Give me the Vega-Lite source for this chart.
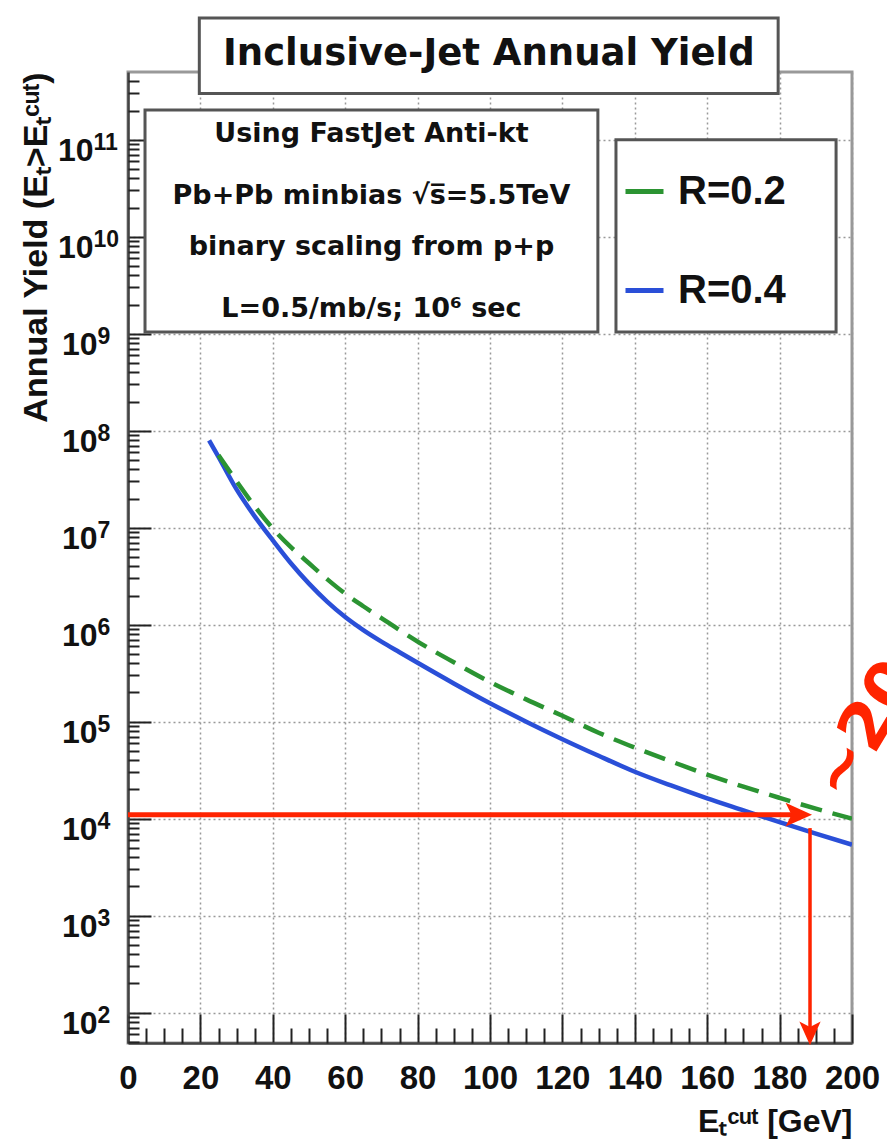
{
  "$schema": "https://vega.github.io/schema/vega-lite/v6.json",
  "width": 724,
  "height": 971,
  "autosize": {"type": "none"},
  "padding": {"left": 128, "top": 72, "right": 35, "bottom": 96},
  "background": "white",
  "config": {
    "font": "Liberation Sans",
    "view": {"stroke": "#999", "strokeWidth": 3},
    "axis": {
      "labelFont": "Liberation Sans",
      "labelFontWeight": "bold",
      "labelColor": "#111",
      "titleFont": "Liberation Sans",
      "titleFontWeight": "bold",
      "titleColor": "#111",
      "gridColor": "#999",
      "gridDash": [2, 3],
      "gridWidth": 1.5,
      "tickColor": "#222",
      "tickWidth": 2,
      "domainColor": "#444",
      "domainWidth": 2.5,
      "labelOverlap": false
    }
  },
  "datasets": {
    "curves": [
      {"R": "R=0.2", "E": 25, "yield": 5.6e7},
      {"R": "R=0.2", "E": 30, "yield": 3.0e7},
      {"R": "R=0.2", "E": 35, "yield": 1.66e7},
      {"R": "R=0.2", "E": 40, "yield": 9.8e6},
      {"R": "R=0.2", "E": 45, "yield": 6.3e6},
      {"R": "R=0.2", "E": 50, "yield": 4.3e6},
      {"R": "R=0.2", "E": 55, "yield": 2.95e6},
      {"R": "R=0.2", "E": 60, "yield": 2.09e6},
      {"R": "R=0.2", "E": 65, "yield": 1.55e6},
      {"R": "R=0.2", "E": 70, "yield": 1.17e6},
      {"R": "R=0.2", "E": 75, "yield": 8.8e5},
      {"R": "R=0.2", "E": 80, "yield": 6.7e5},
      {"R": "R=0.2", "E": 90, "yield": 4.1e5},
      {"R": "R=0.2", "E": 100, "yield": 2.57e5},
      {"R": "R=0.2", "E": 110, "yield": 1.7e5},
      {"R": "R=0.2", "E": 120, "yield": 1.15e5},
      {"R": "R=0.2", "E": 130, "yield": 7.7e4},
      {"R": "R=0.2", "E": 140, "yield": 5.4e4},
      {"R": "R=0.2", "E": 150, "yield": 3.9e4},
      {"R": "R=0.2", "E": 160, "yield": 2.85e4},
      {"R": "R=0.2", "E": 170, "yield": 2.14e4},
      {"R": "R=0.2", "E": 180, "yield": 1.64e4},
      {"R": "R=0.2", "E": 190, "yield": 1.27e4},
      {"R": "R=0.2", "E": 200, "yield": 1.0e4},
      {"R": "R=0.4", "E": 22.4, "yield": 7.94e7},
      {"R": "R=0.4", "E": 25, "yield": 5.37e7},
      {"R": "R=0.4", "E": 30, "yield": 2.48e7},
      {"R": "R=0.4", "E": 35, "yield": 1.31e7},
      {"R": "R=0.4", "E": 40, "yield": 7.41e6},
      {"R": "R=0.4", "E": 45, "yield": 4.3e6},
      {"R": "R=0.4", "E": 50, "yield": 2.65e6},
      {"R": "R=0.4", "E": 55, "yield": 1.73e6},
      {"R": "R=0.4", "E": 60, "yield": 1.2e6},
      {"R": "R=0.4", "E": 65, "yield": 8.8e5},
      {"R": "R=0.4", "E": 70, "yield": 6.7e5},
      {"R": "R=0.4", "E": 75, "yield": 5.2e5},
      {"R": "R=0.4", "E": 80, "yield": 4.05e5},
      {"R": "R=0.4", "E": 90, "yield": 2.48e5},
      {"R": "R=0.4", "E": 100, "yield": 1.55e5},
      {"R": "R=0.4", "E": 110, "yield": 1.0e5},
      {"R": "R=0.4", "E": 120, "yield": 6.6e4},
      {"R": "R=0.4", "E": 130, "yield": 4.45e4},
      {"R": "R=0.4", "E": 140, "yield": 3.05e4},
      {"R": "R=0.4", "E": 150, "yield": 2.2e4},
      {"R": "R=0.4", "E": 160, "yield": 1.62e4},
      {"R": "R=0.4", "E": 170, "yield": 1.22e4},
      {"R": "R=0.4", "E": 180, "yield": 9.2e3},
      {"R": "R=0.4", "E": 190, "yield": 7.0e3},
      {"R": "R=0.4", "E": 200, "yield": 5.4e3}
    ]
  },
  "resolve": {"axis": {"x": "independent", "y": "independent"}},
  "layer": [
    {
      "data": {"name": "curves"},
      "transform": [{"filter": "datum.R == 'R=0.4'"}],
      "mark": {"type": "line", "interpolate": "monotone", "strokeWidth": 4.5, "clip": true},
      "encoding": {
        "x": {
          "field": "E", "type": "quantitative",
          "scale": {"domain": [0, 200], "nice": false, "zero": false},
          "axis": {
            "orient": "bottom",
            "values": [0, 20, 40, 60, 80, 100, 120, 140, 160, 180, 200],
            "format": "d",
            "grid": true,
            "tickSize": -29,
            "labelPadding": 48,
            "labelFontSize": 33,
            "labelFlush": false,
            "title": "Eₜᶜᵘᵗ [GeV]",
            "titleAnchor": "end",
            "titleFontSize": 32,
            "titlePadding": 11
          }
        },
        "y": {
          "field": "yield", "type": "quantitative",
          "scale": {"type": "log", "domain": [48.7, 4.99e11], "nice": false},
          "axis": {
            "orient": "left",
            "values": [1e2, 1e3, 1e4, 1e5, 1e6, 1e7, 1e8, 1e9, 1e10, 1e11],
            "grid": true,
            "tickSize": -23,
            "labelPadding": 54,
            "labelFontSize": 32,
            "labelAlign": "right",
            "labelBaseline": "middle",
            "labelOffset": 11,
            "labelExpr": "datum.value < 5e9 ? '10' : ''",
            "title": "Annual Yield (Eₜ>Eₜᶜᵘᵗ)",
            "titleAnchor": "end",
            "titleFontSize": 34,
            "titlePadding": 8
          }
        },
        "color": {
          "field": "R", "type": "nominal",
          "scale": {"domain": ["R=0.2", "R=0.4"], "range": ["#2b9432", "#2a4fd8"]},
          "legend": {
            "orient": "none",
            "legendX": 495,
            "legendY": 98,
            "title": null,
            "symbolType": "stroke",
            "symbolSize": 1444,
            "symbolStrokeWidth": 5,
            "labelFont": "Liberation Sans",
            "labelFontWeight": "bold",
            "labelFontSize": 40,
            "labelColor": "#111",
            "labelOffset": 12,
            "labelBaseline": "middle",
            "rowPadding": 57,
            "padding": 0
          }
        }
      }
    },
    {
      "data": {"name": "curves"},
      "transform": [{"filter": "datum.R == 'R=0.2'"}],
      "mark": {"type": "line", "interpolate": "monotone", "strokeWidth": 4.5, "strokeDash": [22, 11], "clip": true},
      "encoding": {
        "x": {"field": "E", "type": "quantitative", "axis": null},
        "y": {
          "field": "yield", "type": "quantitative",
          "axis": {
            "orient": "left",
            "values": [1e2, 1e3, 1e4, 1e5, 1e6, 1e7, 1e8, 1e9],
            "grid": false, "domain": false,
            "ticks": true, "tickSize": 0, "tickOpacity": 0,
            "labelPadding": 31,
            "labelFontSize": 23,
            "labelAlign": "left",
            "labelBaseline": "middle",
            "labelOffset": 3,
            "labelExpr": "'' + round(log(datum.value)/LN10)",
            "title": null
          }
        },
        "color": {"field": "R", "type": "nominal"}
      }
    },
    {
      "data": {"values": [{}]},
      "mark": {"type": "rect", "fill": "white", "stroke": "#555", "strokeWidth": 3},
      "encoding": {
        "x": {"datum": 4.7, "type": "quantitative", "axis": {
          "orient": "bottom", "values": [5,10,15,25,30,35,45,50,55,65,70,75,85,90,95,105,110,115,125,130,135,145,150,155,165,170,175,185,190,195],
          "tickSize": -15, "labels": false, "grid": false, "domain": false, "title": null}},
        "x2": {"datum": 129.8},
        "y": {"datum": 2.02e11, "type": "quantitative", "axis": {
          "orient": "left", "values": [50,60,70,80,90,200,300,400,500,600,700,800,900,2000,3000,4000,5000,6000,7000,8000,9000,20000,30000,40000,50000,60000,70000,80000,90000,200000,300000,400000,500000,600000,700000,800000,900000,2e6,3e6,4e6,5e6,6e6,7e6,8e6,9e6,2e7,3e7,4e7,5e7,6e7,7e7,8e7,9e7,2e8,3e8,4e8,5e8,6e8,7e8,8e8,9e8,2e9,3e9,4e9,5e9,6e9,7e9,8e9,9e9,2e10,3e10,4e10,5e10,6e10,7e10,8e10,9e10,2e11,3e11,4e11],
          "tickSize": -11, "labels": false, "grid": false, "domain": false, "title": null}},
        "y2": {"datum": 1.04e9}
      }
    },
    {
      "data": {"values": [{}]},
      "mark": {"type": "rect", "fill": "white", "stroke": "#555", "strokeWidth": 3},
      "encoding": {
        "x": {"datum": 19.7, "type": "quantitative", "axis": null},
        "x2": {"datum": 179.6},
        "y": {"datum": 1.8e12, "type": "quantitative", "axis": {
          "orient": "left",
          "values": [1e10, 1e11],
          "grid": false, "domain": false,
          "ticks": true, "tickSize": 0, "tickOpacity": 0,
          "labelPadding": 35,
          "labelFontSize": 32,
          "labelAlign": "right",
          "labelBaseline": "middle",
          "labelOffset": 11,
          "labelExpr": "'10'",
          "title": null
        }},
        "y2": {"datum": 3.0e11}
      }
    },
    {
      "data": {"values": [{}]},
      "mark": {"type": "rect", "fill": "white", "stroke": "#555", "strokeWidth": 3},
      "encoding": {
        "x": {"datum": 134.8, "type": "quantitative", "axis": null},
        "x2": {"datum": 195.6},
        "y": {"datum": 1.0e11, "type": "quantitative", "axis": {
          "orient": "left",
          "values": [1e10, 1e11],
          "grid": false, "domain": false,
          "ticks": true, "tickSize": 0, "tickOpacity": 0,
          "labelPadding": 35,
          "labelFontSize": 23,
          "labelAlign": "left",
          "labelBaseline": "middle",
          "labelOffset": 3,
          "labelExpr": "'' + round(log(datum.value)/LN10)",
          "title": null
        }},
        "y2": {"datum": 1.04e9}
      }
    },
    {
      "data": {"values": [{}]},
      "mark": {"type": "text", "text": "Inclusive-Jet Annual Yield", "font": "DejaVu Sans", "fontWeight": "bold", "fontSize": 37, "color": "#111", "align": "center", "baseline": "middle"},
      "encoding": {
        "x": {"datum": 99.7, "type": "quantitative", "axis": null},
        "y": {"datum": 7.74e11, "type": "quantitative", "axis": null}
      }
    },
    {
      "data": {"values": [{}]},
      "mark": {"type": "text", "text": "Using FastJet Anti-kt", "font": "DejaVu Sans", "fontWeight": "bold", "fontSize": 27, "color": "#111", "align": "center", "baseline": "middle"},
      "encoding": {
        "x": {"datum": 67.25, "type": "quantitative", "axis": null},
        "y": {"datum": 1.146e11, "type": "quantitative", "axis": null}
      }
    },
    {
      "data": {"values": [{}]},
      "mark": {"type": "text", "text": "Pb+Pb minbias √s̅=5.5TeV", "font": "DejaVu Sans", "fontWeight": "bold", "fontSize": 27, "color": "#111", "align": "center", "baseline": "middle"},
      "encoding": {
        "x": {"datum": 67.25, "type": "quantitative", "axis": null},
        "y": {"datum": 2.63e10, "type": "quantitative", "axis": null}
      }
    },
    {
      "data": {"values": [{}]},
      "mark": {"type": "text", "text": "binary scaling from p+p", "font": "DejaVu Sans", "fontWeight": "bold", "fontSize": 27, "color": "#111", "align": "center", "baseline": "middle"},
      "encoding": {
        "x": {"datum": 67.25, "type": "quantitative", "axis": null},
        "y": {"datum": 7.83e9, "type": "quantitative", "axis": null}
      }
    },
    {
      "data": {"values": [{}]},
      "mark": {"type": "text", "text": "L=0.5/mb/s; 10⁶ sec", "font": "DejaVu Sans", "fontWeight": "bold", "fontSize": 27, "color": "#111", "align": "center", "baseline": "middle"},
      "encoding": {
        "x": {"datum": 67.25, "type": "quantitative", "axis": null},
        "y": {"datum": 1.8e9, "type": "quantitative", "axis": null}
      }
    },
    {
      "data": {"values": [{}]},
      "mark": {"type": "rule", "color": "#ff2400", "strokeWidth": 5},
      "encoding": {
        "x": {"datum": 0, "type": "quantitative", "axis": null},
        "x2": {"datum": 185},
        "y": {"datum": 1.1e4, "type": "quantitative", "axis": null}
      }
    },
    {
      "data": {"values": [{}]},
      "mark": {"type": "point", "shape": "M-1,-0.9L1,0L-1,0.9L-0.55,0Z", "size": 700, "filled": true, "color": "#ff2400", "opacity": 1, "strokeWidth": 0},
      "encoding": {
        "x": {"datum": 185.3, "type": "quantitative", "axis": null},
        "y": {"datum": 1.1e4, "type": "quantitative", "axis": null}
      }
    },
    {
      "data": {"values": [{}]},
      "mark": {"type": "rule", "color": "#ff2400", "strokeWidth": 3.5},
      "encoding": {
        "x": {"datum": 188.4, "type": "quantitative", "axis": null},
        "y": {"datum": 8.0e3, "type": "quantitative", "axis": null},
        "y2": {"datum": 65}
      }
    },
    {
      "data": {"values": [{}]},
      "mark": {"type": "point", "shape": "M-0.9,-1L0,1L0.9,-1L0,-0.55Z", "size": 560, "filled": true, "color": "#ff2400", "opacity": 1, "strokeWidth": 0},
      "encoding": {
        "x": {"datum": 188.4, "type": "quantitative", "axis": null},
        "y": {"datum": 61.1, "type": "quantitative", "axis": null}
      }
    },
    {
      "data": {"values": [{}]},
      "mark": {"type": "text", "text": "~200 GeV", "font": "DejaVu Sans", "fontWeight": "bold", "fontSize": 66, "color": "#ff2400", "align": "left", "baseline": "middle", "angle": -59},
      "encoding": {
        "x": {"datum": 193.4, "type": "quantitative", "axis": null},
        "y": {"datum": 1.84e4, "type": "quantitative", "axis": null}
      }
    }
  ]
}
